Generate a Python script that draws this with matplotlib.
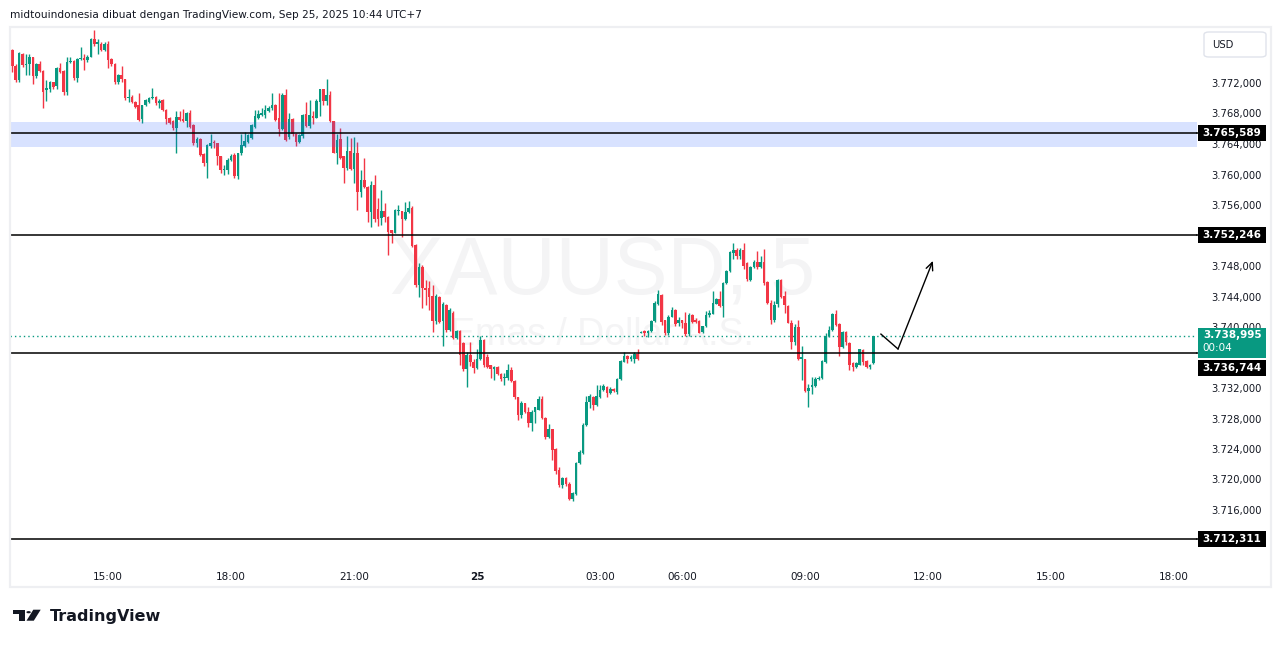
import matplotlib
matplotlib.use("Agg")
import matplotlib.pyplot as plt
from matplotlib.patches import Rectangle, FancyBboxPatch, Polygon, Circle
import numpy as np
import pandas as pd

# XAUUSD 5m candles, 24 Sep 12:35 -> 25 Sep 10:40 (UTC+7)
opens = [
    3773.0, 3776.5, 3774.4, 3772.5, 3775.9, 3774.5, 3774.6, 3775.5, 3773.0, 3774.6,
    3773.7, 3771.2, 3771.3, 3772.2, 3771.7, 3774.1, 3773.7, 3771.0, 3774.9, 3775.0,
    3772.8, 3775.3, 3775.4, 3775.1, 3775.6, 3777.9, 3777.2, 3777.3, 3776.5, 3777.2,
    3775.3, 3774.6, 3772.2, 3773.2, 3772.6, 3770.1, 3770.3, 3769.7, 3769.2, 3767.4,
    3769.2, 3769.7, 3770.1, 3770.3, 3769.5, 3769.9, 3768.6, 3767.6, 3767.2, 3766.2,
    3767.7, 3767.4, 3767.1, 3768.2, 3766.6, 3764.2, 3764.8, 3762.8, 3761.6, 3763.9,
    3764.3, 3764.2, 3762.5, 3760.7, 3760.7, 3762.0, 3762.7, 3759.9, 3762.9, 3763.9,
    3764.4, 3764.9, 3766.3, 3767.5, 3768.0, 3768.0, 3768.5, 3768.8, 3769.2, 3767.5,
    3766.1, 3770.5, 3765.0, 3767.4, 3765.5, 3764.4, 3765.2, 3768.0, 3766.5, 3767.8,
    3767.6, 3769.7, 3771.3, 3769.8, 3770.5, 3767.1, 3763.0, 3764.8, 3762.5, 3761.0,
    3763.2, 3760.9, 3763.0, 3757.9, 3759.4, 3758.5, 3755.2, 3758.8, 3755.6, 3754.4,
    3755.3, 3754.6, 3752.8, 3752.5, 3755.3, 3755.3, 3754.3, 3755.2, 3755.8, 3750.9,
    3745.6, 3748.0, 3745.3, 3745.2, 3744.2, 3740.9, 3744.0, 3740.9, 3743.0, 3739.7,
    3742.0, 3738.7, 3739.6, 3738.0, 3734.6, 3736.5, 3735.6, 3734.8, 3735.9, 3738.4,
    3736.2, 3735.1, 3734.6, 3734.9, 3734.0, 3733.4, 3733.4, 3734.5, 3733.1, 3730.9,
    3728.6, 3730.1, 3729.0, 3727.6, 3729.0, 3729.3, 3730.7, 3728.2, 3725.7, 3726.7,
    3724.1, 3721.4, 3719.4, 3720.3, 3719.6, 3717.6, 3718.2, 3722.3, 3723.6, 3727.3,
    3730.3, 3731.0, 3729.9, 3731.0, 3731.9, 3732.3, 3731.5, 3732.0, 3731.6, 3733.3,
    3735.6, 3736.3, 3736.0, 3736.0, 3736.6, 3739.4, 3739.6, 3739.3, 3739.6, 3740.9,
    3743.1, 3744.3, 3741.0, 3739.3, 3741.5, 3742.4, 3740.6, 3741.0, 3740.6, 3739.2,
    3741.7, 3741.0, 3740.9, 3739.5, 3740.2, 3741.7, 3741.9, 3743.2, 3743.8, 3742.9,
    3745.9, 3747.5, 3749.8, 3750.2, 3749.4, 3750.2, 3748.5, 3746.3, 3748.0, 3748.7,
    3748.0, 3748.7, 3746.0, 3743.3, 3741.0, 3743.1, 3746.3, 3744.2, 3742.9, 3740.7,
    3738.1, 3740.1, 3735.9, 3735.9, 3731.8, 3732.2, 3732.4, 3733.3, 3733.4, 3735.5,
    3738.9, 3739.7, 3741.9, 3740.5, 3737.5, 3739.5, 3738.0, 3735.4, 3734.9, 3735.2,
    3737.1, 3735.7, 3734.9, 3735.4,
]
highs = [
    3776.9, 3776.6, 3774.6, 3776.2, 3776.1, 3775.9, 3776.0, 3775.6, 3774.7, 3775.0,
    3773.8, 3772.5, 3772.4, 3772.3, 3774.2, 3774.8, 3773.8, 3775.5, 3775.5, 3775.1,
    3775.4, 3776.8, 3775.9, 3775.8, 3778.0, 3779.1, 3777.9, 3777.5, 3777.5, 3777.6,
    3775.4, 3774.7, 3773.3, 3774.4, 3772.7, 3771.3, 3770.6, 3769.8, 3770.8, 3769.3,
    3770.0, 3770.3, 3771.5, 3770.4, 3770.0, 3770.0, 3768.7, 3767.7, 3767.3, 3768.5,
    3768.5, 3768.7, 3768.3, 3768.6, 3766.7, 3765.0, 3764.9, 3762.9, 3764.1, 3765.4,
    3764.7, 3764.3, 3762.6, 3761.4, 3762.3, 3762.8, 3762.9, 3763.0, 3765.5, 3765.7,
    3765.5, 3766.8, 3768.6, 3768.6, 3768.9, 3769.3, 3769.1, 3770.8, 3769.4, 3770.8,
    3770.8, 3771.3, 3768.2, 3767.5, 3765.6, 3765.4, 3768.1, 3769.7, 3769.9, 3768.5,
    3770.0, 3771.4, 3771.4, 3772.7, 3771.1, 3767.2, 3765.5, 3766.2, 3762.6, 3765.2,
    3764.9, 3765.0, 3764.4, 3760.7, 3762.3, 3758.6, 3759.3, 3760.1, 3757.0, 3758.1,
    3756.4, 3754.7, 3752.9, 3755.6, 3756.1, 3755.4, 3756.5, 3756.6, 3756.0, 3751.0,
    3748.5, 3748.3, 3746.3, 3746.1, 3745.6, 3744.5, 3744.2, 3743.4, 3743.2, 3742.6,
    3742.2, 3739.8, 3739.7, 3738.2, 3736.8, 3738.2, 3736.0, 3737.2, 3738.9, 3738.6,
    3736.6, 3735.2, 3735.0, 3735.0, 3734.1, 3734.1, 3735.3, 3734.9, 3733.2, 3731.0,
    3730.4, 3730.2, 3729.7, 3729.3, 3729.7, 3731.1, 3731.1, 3728.3, 3727.4, 3726.8,
    3724.2, 3721.8, 3720.4, 3720.4, 3719.8, 3718.5, 3722.4, 3724.0, 3727.5, 3731.1,
    3731.3, 3731.1, 3732.5, 3732.5, 3732.6, 3732.4, 3732.3, 3732.1, 3733.4, 3735.8,
    3736.8, 3736.5, 3736.5, 3736.8, 3737.3, 3739.6, 3739.8, 3739.7, 3741.0, 3743.5,
    3745.0, 3744.5, 3741.1, 3741.7, 3742.8, 3742.5, 3741.4, 3741.1, 3742.1, 3742.0,
    3741.8, 3741.3, 3741.0, 3740.3, 3742.2, 3742.3, 3744.8, 3744.0, 3744.9, 3746.0,
    3747.6, 3750.1, 3751.2, 3750.5, 3750.5, 3751.2, 3748.6, 3748.1, 3748.9, 3750.1,
    3749.4, 3750.3, 3746.1, 3743.7, 3743.6, 3746.4, 3746.4, 3744.8, 3743.0, 3741.1,
    3740.5, 3741.1, 3737.6, 3736.0, 3732.7, 3733.6, 3733.6, 3733.7, 3735.8, 3739.3,
    3740.2, 3742.0, 3742.3, 3740.6, 3739.6, 3739.6, 3738.1, 3735.6, 3735.6, 3737.3,
    3737.2, 3735.8, 3735.3, 3739.0,
]
lows = [
    3772.8, 3773.6, 3772.3, 3772.2, 3774.2, 3773.2, 3773.2, 3772.0, 3772.8, 3773.6,
    3768.9, 3769.8, 3771.0, 3771.3, 3771.4, 3773.5, 3770.6, 3770.6, 3774.8, 3772.5,
    3772.2, 3775.2, 3773.8, 3774.9, 3775.5, 3777.0, 3776.0, 3776.3, 3776.3, 3774.1,
    3774.4, 3772.0, 3772.0, 3772.3, 3769.9, 3769.6, 3769.5, 3768.9, 3767.2, 3766.9,
    3769.1, 3769.5, 3770.0, 3769.3, 3768.9, 3768.4, 3766.8, 3766.7, 3766.0, 3763.0,
    3767.2, 3767.0, 3766.4, 3766.2, 3764.0, 3763.8, 3762.5, 3761.2, 3759.7, 3763.6,
    3763.6, 3761.4, 3760.3, 3760.1, 3760.2, 3761.9, 3759.7, 3759.5, 3762.7, 3763.7,
    3764.2, 3764.8, 3766.2, 3767.4, 3767.8, 3767.6, 3768.3, 3768.6, 3767.2, 3765.2,
    3766.0, 3764.5, 3764.8, 3765.2, 3763.9, 3764.2, 3764.9, 3766.3, 3766.2, 3766.7,
    3767.5, 3767.8, 3769.2, 3769.2, 3767.0, 3762.9, 3761.5, 3762.1, 3759.0, 3760.7,
    3760.7, 3759.0, 3755.5, 3757.2, 3758.4, 3753.9, 3753.3, 3753.9, 3753.4, 3753.5,
    3753.9, 3749.6, 3751.2, 3752.4, 3754.8, 3751.9, 3754.2, 3755.1, 3750.6, 3745.4,
    3744.1, 3742.6, 3743.0, 3742.4, 3739.5, 3740.5, 3740.6, 3737.6, 3739.5, 3739.6,
    3738.5, 3738.5, 3735.2, 3734.4, 3732.2, 3735.0, 3734.1, 3734.6, 3735.8, 3734.9,
    3734.7, 3733.4, 3733.2, 3733.8, 3733.1, 3732.5, 3733.2, 3732.9, 3730.7, 3728.0,
    3728.2, 3728.8, 3727.0, 3726.5, 3727.6, 3729.2, 3728.1, 3725.5, 3725.6, 3722.7,
    3720.9, 3719.1, 3719.0, 3719.3, 3717.5, 3717.3, 3718.1, 3722.2, 3723.5, 3727.2,
    3729.5, 3729.3, 3729.8, 3730.8, 3731.8, 3730.9, 3731.4, 3731.6, 3731.4, 3733.2,
    3735.5, 3735.4, 3735.7, 3735.4, 3735.8, 3739.3, 3738.9, 3738.8, 3739.5, 3740.8,
    3743.0, 3740.4, 3739.1, 3739.1, 3741.4, 3740.3, 3740.3, 3740.0, 3739.0, 3739.0,
    3740.7, 3740.6, 3739.3, 3739.4, 3740.1, 3741.5, 3741.8, 3743.1, 3742.8, 3741.5,
    3745.8, 3747.3, 3749.1, 3749.1, 3749.1, 3747.7, 3746.2, 3746.2, 3747.9, 3747.8,
    3747.9, 3745.6, 3743.1, 3740.5, 3740.8, 3742.8, 3744.0, 3742.0, 3740.6, 3737.3,
    3737.8, 3735.8, 3733.2, 3731.6, 3729.6, 3731.4, 3732.3, 3733.2, 3733.3, 3735.4,
    3738.8, 3739.6, 3740.3, 3736.3, 3737.4, 3737.8, 3734.5, 3734.4, 3734.8, 3735.1,
    3735.1, 3734.8, 3734.6, 3735.3,
]
closes = [
    3776.7, 3774.3, 3772.5, 3776.0, 3774.5, 3774.6, 3775.5, 3773.1, 3774.6, 3773.7,
    3771.0, 3771.5, 3772.2, 3771.6, 3774.1, 3773.6, 3770.9, 3774.9, 3775.0, 3772.8,
    3775.3, 3775.4, 3775.1, 3775.6, 3777.9, 3777.2, 3777.5, 3776.5, 3777.3, 3775.2,
    3774.6, 3772.3, 3773.2, 3772.6, 3770.1, 3770.3, 3769.7, 3769.0, 3767.3, 3769.2,
    3769.9, 3770.1, 3770.3, 3769.5, 3769.8, 3768.6, 3767.4, 3766.9, 3766.2, 3767.7,
    3767.3, 3767.2, 3768.2, 3766.4, 3764.2, 3764.8, 3762.7, 3761.6, 3764.0, 3764.3,
    3764.2, 3762.5, 3760.7, 3760.9, 3762.0, 3762.6, 3759.9, 3762.9, 3764.0, 3764.5,
    3765.3, 3766.6, 3767.8, 3768.0, 3768.2, 3768.6, 3768.9, 3769.2, 3767.3, 3766.1,
    3770.5, 3764.7, 3767.4, 3765.4, 3764.4, 3765.3, 3768.0, 3766.5, 3767.9, 3767.6,
    3769.8, 3771.3, 3769.8, 3770.5, 3767.1, 3763.0, 3764.7, 3762.3, 3761.0, 3763.2,
    3760.9, 3763.0, 3757.9, 3759.4, 3758.5, 3755.2, 3758.8, 3754.3, 3754.3, 3755.3,
    3754.5, 3752.6, 3752.5, 3755.5, 3755.5, 3754.3, 3755.2, 3755.8, 3750.8, 3745.6,
    3748.0, 3745.3, 3745.0, 3744.1, 3740.9, 3744.2, 3740.8, 3743.2, 3739.7, 3742.4,
    3738.7, 3739.6, 3736.5, 3734.6, 3736.5, 3735.5, 3734.8, 3735.9, 3738.4, 3735.1,
    3734.9, 3734.6, 3734.9, 3734.0, 3733.3, 3733.5, 3734.5, 3733.0, 3730.9, 3728.6,
    3730.1, 3729.0, 3727.6, 3729.0, 3729.6, 3730.7, 3728.2, 3725.7, 3726.7, 3724.0,
    3721.3, 3719.4, 3720.3, 3719.5, 3717.6, 3718.3, 3722.3, 3723.7, 3727.3, 3730.3,
    3731.1, 3729.9, 3731.1, 3731.9, 3732.4, 3731.5, 3732.0, 3731.8, 3733.3, 3735.7,
    3736.3, 3736.0, 3736.2, 3736.6, 3735.9, 3739.5, 3739.3, 3739.6, 3740.9, 3743.3,
    3744.5, 3740.8, 3739.3, 3741.5, 3742.4, 3740.5, 3741.0, 3740.6, 3739.2, 3741.7,
    3740.8, 3740.8, 3739.4, 3740.2, 3741.7, 3742.0, 3743.3, 3743.8, 3742.9, 3745.9,
    3747.5, 3750.0, 3750.2, 3749.4, 3750.2, 3748.1, 3746.4, 3748.0, 3748.7, 3748.0,
    3748.7, 3745.9, 3743.3, 3741.0, 3743.0, 3746.3, 3744.1, 3743.0, 3740.7, 3738.1,
    3740.1, 3735.9, 3736.2, 3731.8, 3732.1, 3732.5, 3733.3, 3733.5, 3735.7, 3739.0,
    3739.7, 3741.9, 3740.4, 3737.5, 3739.5, 3738.1, 3735.1, 3734.9, 3735.4, 3737.2,
    3735.6, 3734.9, 3735.2, 3738.995,
]

# drawn levels
zone_low, zone_high = 3763.74, 3767.0
levels = [3765.589, 3752.246, 3736.744, 3712.311]
level_labels = ["3.765,589", "3.752,246", "3.736,744", "3.712,311"]
level_label_at = [3765.589, 3752.246, 3734.75, 3712.311]
last_price = 3738.995
last_label = "3.738,995"
countdown = "00:04"

# arrow drawing (bar index, price)
arrow_x = [255.2, 260.2, 270.4]
arrow_y = [3739.2, 3737.25, 3748.8]

# scale labels that are not hidden under the level boxes
price_ticks = [3716, 3720, 3724, 3728, 3732, 3740, 3744, 3748, 3756, 3760, 3764, 3768, 3772]
price_tick_labels = ["3.716,000", "3.720,000", "3.724,000", "3.728,000", "3.732,000",
                     "3.740,000", "3.744,000", "3.748,000", "3.756,000", "3.760,000",
                     "3.764,000", "3.768,000", "3.772,000"]
time_ticks = ["2025-09-24 15:00", "2025-09-24 18:00", "2025-09-24 21:00", "2025-09-25 00:00",
              "2025-09-25 03:00", "2025-09-25 06:00", "2025-09-25 09:00", "2025-09-25 12:00",
              "2025-09-25 15:00", "2025-09-25 18:00"]
time_tick_labels = ["15:00", "18:00", "21:00", "25", "03:00", "06:00", "09:00", "12:00", "15:00", "18:00"]

TEAL = "#089981"
RED = "#f23645"
TXT = "#131722"

# bar times: 5 minute bars, daily break 04:00-05:00 is skipped
times = pd.date_range("2025-09-24 12:35", "2025-09-25 20:00", freq="5min")
times = times[times.hour != 4]
pos = {t: i for i, t in enumerate(times)}
tick_pos = [pos[pd.Timestamp(t)] for t in time_ticks]

W, H = 1281, 646
fig = plt.figure(figsize=(W / 100, H / 100), dpi=100)
fig.patch.set_facecolor("white")


def fx(px):
    return px / W


def fy(py):
    return 1 - py / H


top, bottom = 30, 558
ax = fig.add_axes([fx(10), fy(bottom), fx(1197) - fx(10), fy(top) - fy(bottom)])
ymax = 3772 + (84 - top) / 7.625
ymin = 3772 - (bottom - 84) / 7.625
ax.set_ylim(ymin, ymax)
ax.set_xlim(0.32, 347.7)

# watermark
ax.text(0.499, 0.54, "XAUUSD, 5", transform=ax.transAxes, ha="center", va="center",
        fontsize=58, family="Liberation Sans", color="#f4f4f5", zorder=0)
ax.text(0.499, 0.422, "Emas / Dollar A.S.", transform=ax.transAxes, ha="center", va="center",
        fontsize=27, family="Liberation Sans", color="#f4f4f5", zorder=0)

o = np.array(opens)
h = np.array(highs)
l = np.array(lows)
c = np.array(closes)
x = np.arange(len(c))
col = np.where(c >= o, TEAL, RED)
ax.vlines(x, l, h, colors=col, lw=1, zorder=3)
ax.bar(x, np.maximum(np.abs(c - o), 0.13), bottom=np.minimum(o, c), width=0.76,
       color=col, lw=0, zorder=4)

# zone + lines
ax.axhspan(zone_low, zone_high, color="#2962ff", alpha=0.18, lw=0, zorder=5)
for lv in levels:
    ax.axhline(lv, color="black", lw=1.1, zorder=6)
ax.axhline(last_price, color=TEAL, lw=1, ls=(0, (1, 2.2)), zorder=2)

ax.plot(arrow_x[:2], arrow_y[:2], color="black", lw=1, zorder=7)
ax.annotate("", xy=(arrow_x[2], arrow_y[2]), xytext=(arrow_x[1], arrow_y[1]),
            arrowprops=dict(arrowstyle="->,head_length=0.55,head_width=0.25", color="black",
                            lw=1, shrinkA=0, shrinkB=0), zorder=7)

ax.set_yticks([])
ax.set_xticks(tick_pos)
ax.set_xticklabels(time_tick_labels, fontsize=7.5, color=TXT)
ax.get_xticklabels()[3].set_fontweight("bold")
ax.tick_params(axis="x", length=0, pad=10)
for s in ax.spines.values():
    s.set_visible(False)

# right price scale
axr = fig.add_axes([fx(1197), fy(bottom), fx(1270) - fx(1197), fy(top) - fy(bottom)])
axr.set_ylim(ymin, ymax)
axr.set_xlim(0, 1)
axr.axis("off")
for p, t in zip(price_ticks, price_tick_labels):
    axr.text(0.89, p, t, ha="right", va="center", fontsize=7.2, color=TXT, zorder=2)
bh = 16 / 7.625
for lv, t, at in zip(levels, level_labels, level_label_at):
    axr.add_patch(Rectangle((0.015, at - bh / 2), 0.93, bh, fc="black", ec="none", zorder=3, clip_on=False))
    axr.text(0.48, at, t, ha="center", va="center", fontsize=7.5, fontweight="bold",
             color="white", zorder=4, clip_on=False)
    axr.plot([0, 0.015], [lv, lv], color="black", lw=1.1, zorder=3, clip_on=False)
box_top = 3772 - (328 - 84) / 7.625
box_bot = 3772 - (358 - 84) / 7.625
axr.add_patch(Rectangle((0.015, box_bot), 0.93, box_top - box_bot, fc=TEAL, ec="none", zorder=3))
axr.text(0.08, last_price + 0.15, last_label, ha="left", va="center", fontsize=7.5,
         fontweight="bold", color="white", zorder=4)
axr.text(0.08, last_price - 1.6, countdown, ha="left", va="center", fontsize=7.5,
         color="white", zorder=4)

# USD box
fig.add_artist(FancyBboxPatch((fx(1204), fy(57)), fx(1266) - fx(1204), fy(32) - fy(57),
                              boxstyle="round,pad=0,rounding_size=0.004", transform=fig.transFigure,
                              fc="white", ec="#e0e3eb", lw=1))
fig.text(fx(1212), fy(44.5), "USD", fontsize=7.2, color=TXT, va="center")

# outer frame
fig.add_artist(Rectangle((fx(9.5), fy(587)), fx(1271) - fx(9.5), fy(27) - fy(587),
                         transform=fig.transFigure, fill=False, ec="#eeeff2", lw=1.6))

# header
fig.text(fx(10), fy(15), "midtouindonesia dibuat dengan TradingView.com, Sep 25, 2025 10:44 UTC+7",
         fontsize=7.6, color=TXT, va="center")

# TradingView logo
fig.add_artist(Polygon([(fx(12.7), fy(609.7)), (fx(25), fy(609.7)), (fx(25), fy(620.7)),
                        (fx(19.3), fy(620.7)), (fx(19.3), fy(614)), (fx(12.7), fy(614))],
                       closed=True, transform=fig.transFigure, fc=TXT, ec="none"))
fig.add_artist(Circle((fx(28.6), fy(612.2)), 2.2 / W, transform=fig.transFigure, fc=TXT, ec="none"))
fig.add_artist(Polygon([(fx(33.3), fy(609.7)), (fx(40.7), fy(609.7)), (fx(33.8), fy(620.7)),
                        (fx(26.5), fy(620.7))],
                       closed=True, transform=fig.transFigure, fc=TXT, ec="none"))
fig.text(fx(50), fy(620.7), "TradingView", fontsize=11.5, fontweight="bold", family="DejaVu Sans",
         color=TXT, va="baseline")

fig.savefig("out.png", dpi=100)
plt.close("all")
